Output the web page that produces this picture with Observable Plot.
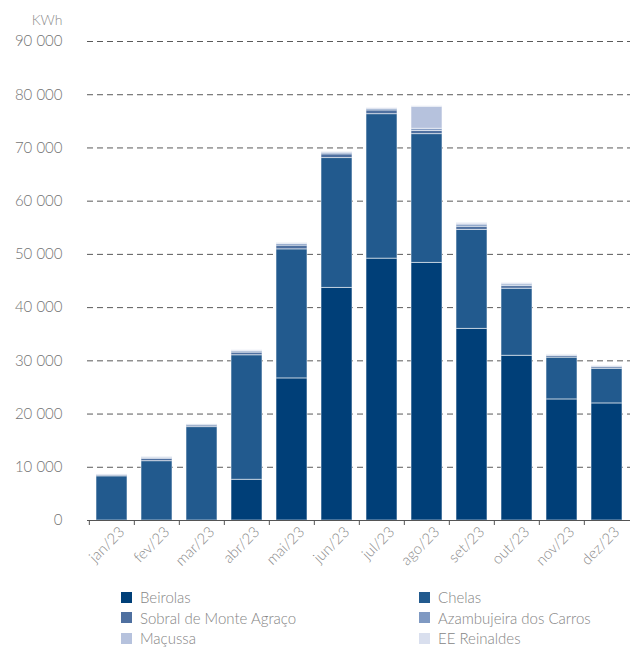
<!DOCTYPE html>
<html>
<head>
<meta charset="utf-8">
<script src="https://cdn.jsdelivr.net/npm/d3@7"></script>
<script src="https://cdn.jsdelivr.net/npm/@observablehq/plot@0.6"></script>
<style>
  html, body { margin: 0; padding: 0; background: #fff; }
  body { width: 630px; font-family: Lato, "Open Sans", sans-serif; font-weight: 300; }
  #chart svg { display: block; }
  .legend { position: relative; height: 73px; }
  .legend .item { position: absolute; display: flex; align-items: center; font-size: 15px; color: #858585; height: 20px; }
  .legend .sw { width: 11px; height: 11px; margin-right: 8px; }
</style>
</head>
<body>
<div id="chart"></div>
<div class="legend" id="legend"></div>
<script>
// Monthly energy production per plant, 2023 (kWh)
const months = ["jan/23", "fev/23", "mar/23", "abr/23", "mai/23", "jun/23",
                "jul/23", "ago/23", "set/23", "out/23", "nov/23", "dez/23"];
const plants = ["Beirolas", "Chelas", "Sobral de Monte Agraço",
                "Azambujeira dos Carros", "Maçussa", "EE Reinaldes"];
const colors = ["#003f78", "#225a8e", "#4f70a0", "#7f99c2", "#b6c2dd", "#d9dfee"];

const beirolas    = [0, 0, 0, 7650, 26700, 43700, 49200, 48400, 36000, 30950, 22750, 22000];
const chelas      = [8300, 11150, 17550, 23400, 24250, 24400, 27150, 24200, 18600, 12600, 7850, 6500];
const sobral      = [200, 450, 300, 500, 700, 700, 700, 600, 600, 500, 300, 300];
const azambujeira = [100, 200, 150, 250, 300, 300, 300, 400, 400, 300, 150, 150];
const macussa     = [50, 100, 50, 150, 150, 100, 100, 4150, 200, 200, 100, 100];
const reinaldes   = [0, 0, 0, 50, 0, 0, 0, 100, 150, 100, 50, 50];

const yTicks = [0, 10000, 20000, 30000, 40000, 50000, 60000, 70000, 80000, 90000];

const seriesValues = [beirolas, chelas, sobral, azambujeira, macussa, reinaldes];
const rows = [];
plants.forEach((p, i) => months.forEach((m, j) => rows.push({month: m, plant: p, value: seriesValues[i][j]})));

const fmt = d3.formatLocale({thousands: " ", grouping: [3], decimal: ",", currency: ["", ""]}).format(",");

const plot = Plot.plot({
  width: 630,
  height: 575,
  marginLeft: 87,
  marginRight: 0,
  marginTop: 41,
  marginBottom: 55,
  style: {fontFamily: "Lato, 'Open Sans', sans-serif", fontSize: "14px", color: "#7a7a7a", background: "#fff"},
  x: {domain: months, paddingInner: 0.32, paddingOuter: 0.16, label: null},
  y: {domain: [0, 90000], label: null},
  color: {domain: plants, range: colors},
  marks: [
    Plot.gridY(yTicks.filter(d => d > 0), {stroke: "#5a5a5a", strokeOpacity: 1, strokeDasharray: "6,4"}),
    Plot.barY(rows, {
      x: "month", y: "value", fill: "plant", order: plants,
      stroke: "#ffffff", strokeOpacity: 0.55, strokeWidth: 1
    }),
    Plot.ruleY([0], {stroke: "#555"}),
    Plot.axisY({ticks: yTicks, tickSize: 0, tickPadding: 25, tickFormat: fmt, fontSize: 15, fill: "#737373", label: null}),
    Plot.axisX({tickSize: 5, tickFormat: () => "", dx: -22.67, stroke: "#555", label: null}),
    Plot.axisX({tickSize: 0, tickRotate: -45, tickPadding: 9, dx: 10, fontSize: 15, fill: "#8a8a8a", label: null}),
    Plot.text(["KWh"], {frameAnchor: "top-left", dx: -25, dy: -26, textAnchor: "end", fontSize: 14, fill: "#8a8a8a"})
  ]
});
document.getElementById("chart").appendChild(plot);

// Legend in two columns below the chart
const legend = document.getElementById("legend");
plants.forEach((p, i) => {
  const item = document.createElement("div");
  item.className = "item";
  item.style.left = (i % 2 === 0 ? 121 : 419) + "px";
  item.style.top = (12 + Math.floor(i / 2) * 20.5) + "px";
  const sw = document.createElement("span");
  sw.className = "sw";
  sw.style.background = colors[i];
  item.appendChild(sw);
  item.appendChild(document.createTextNode(p));
  legend.appendChild(item);
});
</script>
</body>
</html>
